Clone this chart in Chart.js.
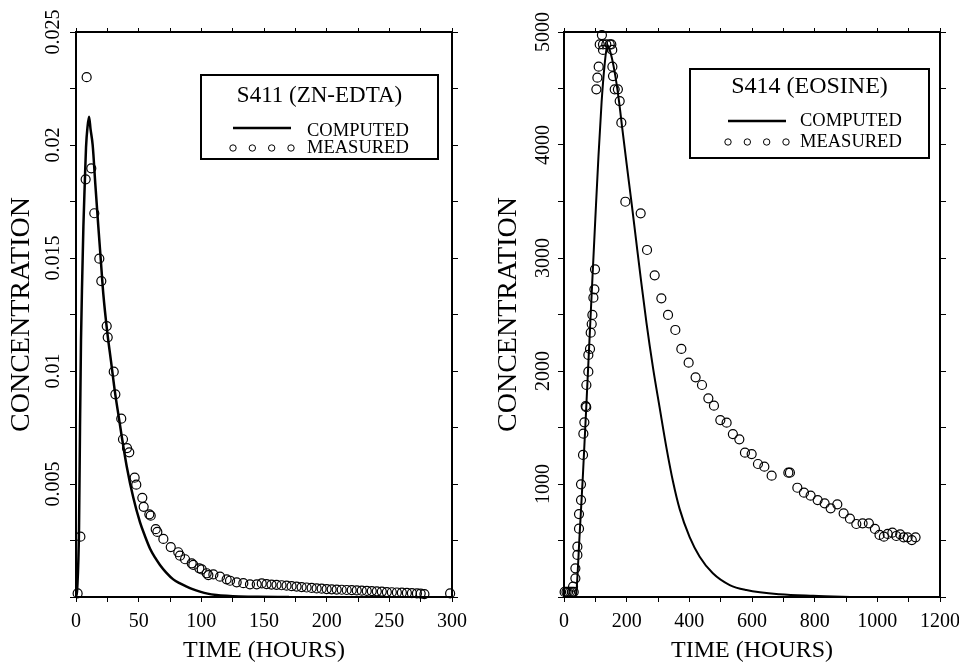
<!DOCTYPE html>
<html>
<head>
<meta charset="utf-8">
<script src="https://cdn.jsdelivr.net/npm/chart.js@4.4.0/dist/chart.umd.min.js"></script>
<style>
  html, body { margin: 0; padding: 0; background: #fff; }
  #wrap { position: relative; width: 959px; height: 664px; }
  #leftChart { position: absolute; left: 0; top: 0; }
  #rightChart { position: absolute; left: 480px; top: 0; }
</style>
</head>
<body>
<div id="wrap">
  <canvas id="leftChart" width="480" height="664"></canvas>
  <canvas id="rightChart" width="479" height="664"></canvas>
</div>
<script>
// S411 (ZN-EDTA) - measured
const s411MeasuredTime = [1.3, 3.5, 7.7, 8.5, 12.2, 14.6, 18.6, 20.2, 24.5, 25.3,
  30.1, 31.4, 36.1, 37.5, 40.7, 42.5, 46.8, 48.1, 52.9, 54,
  58.5, 59.6, 63.6, 64.9, 69.7, 75.6, 81.6, 83, 87, 92.3,
  93.6, 98.4, 100.3, 104.3, 105.6, 109.6, 114.9, 120.2, 122.9, 128.2,
  133.5, 138.8, 144.2, 148.2, 152, 156, 160, 164, 168, 172,
  176, 180, 184, 188, 192, 196, 200, 204, 208, 212,
  216, 220, 224, 228, 232, 236, 240, 244, 248, 252,
  256, 260, 264, 268, 272, 275, 278, 298.5];
const s411MeasuredConc = [0.00016, 0.00267, 0.01848, 0.023, 0.01897, 0.01698, 0.01497, 0.01398, 0.01199, 0.01149,
  0.00997, 0.00897, 0.00789, 0.00698, 0.00659, 0.0064, 0.00528, 0.00497, 0.00439, 0.00399,
  0.00366, 0.0036, 0.003, 0.00288, 0.00257, 0.00221, 0.00198, 0.00183, 0.00167, 0.00149,
  0.00142, 0.00127, 0.00122, 0.00105, 0.00097, 0.001, 0.0009, 0.00078, 0.00072, 0.00065,
  0.00061, 0.00056, 0.00056, 0.0006, 0.00057, 0.00055, 0.00054, 0.00052, 0.0005, 0.00048,
  0.00046, 0.00044, 0.00042, 0.0004, 0.00038, 0.00037, 0.00035, 0.00034, 0.00033, 0.00032,
  0.00031, 0.0003, 0.00029, 0.00028, 0.00027, 0.00026, 0.00025, 0.00024, 0.00022, 0.00021,
  0.0002, 0.00019, 0.00018, 0.00017, 0.00016, 0.00015, 0.00013, 0.00016];

// S411 - computed
const s411ComputedTime = [0, 1, 2.4, 3.2, 4, 5, 5.9, 7, 8, 9.2,
  10.4, 11.6, 13.3, 15.5, 17.8, 19.8, 21.8, 25, 28, 31,
  34.3, 36.5, 40.4, 45.7, 51.1, 55, 59, 63, 67, 72,
  77.6, 83, 88.3, 93, 98.9, 105, 112, 120, 130, 145, 170];
const s411ComputedConc = [0, 0.0004, 0.003, 0.0075, 0.0114, 0.0142, 0.0164, 0.0183, 0.0199, 0.0208,
  0.02125, 0.0207, 0.02, 0.0182, 0.0164, 0.0149, 0.0134, 0.0117, 0.0104, 0.0091,
  0.0079, 0.0071, 0.0058, 0.0044, 0.0033, 0.0027, 0.00215, 0.00175, 0.00142, 0.00108,
  0.00078, 0.0006, 0.00046, 0.00035, 0.00024, 0.00015, 0.00009, 0.00005, 0.00002, 0.00001, 0];

// S414 (EOSINE) - measured
const s414MeasuredTime = [2, 8, 13, 19, 25, 31, 28.8, 36.3, 36.3, 42.7,
  42.7, 47.9, 47.9, 54.3, 54.3, 60.7, 61.8, 65, 69.2, 71,
  71.4, 77.7, 77.7, 83, 85.2, 88.4, 90.6, 93.8, 97, 99,
  103.3, 106.5, 110.7, 114, 121, 124.5, 124.5, 135, 146, 151,
  154, 154.4, 156.4, 161.8, 172, 177.7, 183, 195.8, 244.7, 265,
  289.4, 310.7, 332, 355.3, 374.5, 397.8, 420, 440.4, 460.7, 478.6,
  498.9, 519, 539, 559.6, 577.5, 598.9, 619, 639.4, 662.7, 716,
  721, 744.7, 765.8, 787, 809.5, 831.8, 851, 872.3, 892.5, 912.5,
  932.9, 953, 973, 992.3, 1007, 1021, 1033, 1048, 1060.5, 1073,
  1084, 1096.6, 1110, 1122];
const s414MeasuredConc = [45, 45, 45, 45, 45, 45, 91, 165, 254, 372,
  445, 605, 734, 858, 997, 1257, 1445, 1546, 1690, 1680,
  1876, 1994, 2142, 2195, 2339, 2416, 2496, 2649, 2723, 2900,
  4493, 4596, 4693, 4890, 4973, 4890, 4841, 4890, 4890, 4890,
  4841, 4693, 4610, 4493, 4493, 4389, 4198, 3498, 3395, 3071,
  2847, 2643, 2496, 2363, 2195, 2074, 1944, 1876, 1758, 1693,
  1566, 1543, 1442, 1395, 1277, 1265, 1177, 1153, 1074, 1100,
  1100, 967, 923, 897, 858, 829, 785, 820, 740, 693,
  646, 652, 652, 602, 549, 534, 558, 569, 540, 555,
  528, 528, 504, 528];

// S414 - computed
const s414ComputedTime = [0, 36, 40, 50, 60, 70, 80, 90, 100, 110,
  120, 130, 138.5, 150, 162, 175, 185, 200, 216, 230,
  245, 263, 284, 305, 327, 348, 369, 401, 433, 475,
  529, 582, 688, 795, 933];
const s414ComputedConc = [0, 0, 60, 560, 1060, 1620, 2200, 2780, 3350, 3900,
  4380, 4720, 4885, 4800, 4640, 4400, 4170, 3830, 3480, 3160,
  2820, 2430, 2030, 1680, 1320, 1020, 780, 530, 357, 210,
  106, 62, 24, 10, 0];

// ticks
const s411TimeTicks = [0, 25, 50, 75, 100, 125, 150, 175, 200, 225, 250, 275, 300];
const s411TimeLabels = ["0", "50", "100", "150", "200", "250", "300"];
const s411ConcTicks = [0, 0.0025, 0.005, 0.0075, 0.01, 0.0125, 0.015, 0.0175, 0.02, 0.0225, 0.025];
const s411ConcLabels = ["0.005", "0.01", "0.015", "0.02", "0.025"];
const s414TimeTicks = [0, 100, 200, 300, 400, 500, 600, 700, 800, 900, 1000, 1100, 1200];
const s414TimeLabels = ["0", "200", "400", "600", "800", "1000", "1200"];
const s414ConcTicks = [0, 500, 1000, 1500, 2000, 2500, 3000, 3500, 4000, 4500, 5000];
const s414ConcLabels = ["1000", "2000", "3000", "4000", "5000"];

const SERIF = "'Liberation Serif', 'Times New Roman', serif";

function pts(xs, ys) {
  return xs.map((x, i) => ({ x: x, y: ys[i] }));
}

function tickLabel(labels) {
  return function (value) {
    const hit = labels.find((l) => Math.abs(Number(l) - value) < 1e-9);
    return hit === undefined ? "" : hit;
  };
}

function fixedTicks(values) {
  return function (scale) {
    scale.ticks = values.map((v) => ({ value: v }));
  };
}

// fixed axis sizes so the plot frame lands where the original has it
function fixHeight(h) {
  return function (s) {
    s.height = h;
    s.paddingLeft = 0;
    s.paddingRight = 0;
  };
}

function fixWidth(w) {
  return function (s) {
    s.width = w;
    s.paddingTop = 0;
    s.paddingBottom = 0;
  };
}

// legend box drawn inside the plot
const boxLegend = {
  id: "boxLegend",
  afterDraw(chart, args, o) {
    const ctx = chart.ctx;
    ctx.save();
    ctx.strokeStyle = "#000";
    ctx.fillStyle = "#000";
    ctx.lineWidth = 2;
    ctx.strokeRect(o.x, o.y, o.w, o.h);
    ctx.textBaseline = "middle";
    ctx.textAlign = "center";
    ctx.font = o.titleSize + "px " + SERIF;
    ctx.fillText(o.title, o.x + o.w / 2, o.titleY);
    ctx.textAlign = "left";
    ctx.font = o.itemSize + "px " + SERIF;
    ctx.fillText("COMPUTED", o.textX, o.lineTextY);
    ctx.fillText("MEASURED", o.textX, o.dotY);
    ctx.lineWidth = o.lineWidth;
    ctx.beginPath();
    ctx.moveTo(o.sample0, o.lineY);
    ctx.lineTo(o.sample1, o.lineY);
    ctx.stroke();
    ctx.lineWidth = 1;
    for (let i = 0; i < 4; i++) {
      const cx = o.sample0 + (i * (o.sample1 - o.sample0)) / 3;
      ctx.beginPath();
      ctx.arc(cx, o.dotY, 3.2, 0, Math.PI * 2);
      ctx.stroke();
    }
    ctx.restore();
  },
};

function makeChart(id, cfg) {
  const frame = { display: true, color: "#000", width: 2 };
  const tickFont = { family: SERIF, size: 20 };
  const gridX = { drawOnChartArea: false, color: "#000", lineWidth: 1, tickLength: 5 };
  const gridY = { drawOnChartArea: false, color: "#000", lineWidth: 1, tickLength: 6 };

  return new Chart(document.getElementById(id), {
    type: "scatter",
    data: {
      datasets: [
        {
          label: "MEASURED",
          data: pts(cfg.mt, cfg.mc),
          showLine: false,
          pointRadius: 4.5,
          pointBorderWidth: 1.2,
          borderColor: "#000",
          backgroundColor: "rgba(0,0,0,0)",
          clip: false,
        },
        {
          label: "COMPUTED",
          data: pts(cfg.ct, cfg.cc),
          showLine: true,
          pointRadius: 0,
          borderColor: "#000",
          borderWidth: cfg.lineWidth,
          cubicInterpolationMode: "monotone",
        },
      ],
    },
    options: {
      responsive: false,
      devicePixelRatio: 1,
      animation: false,
      layout: { padding: 0 },
      plugins: {
        legend: { display: false },
        tooltip: { enabled: false },
        boxLegend: cfg.legend,
      },
      scales: {
        x: {
          type: "linear",
          position: "bottom",
          min: cfg.xMin,
          max: cfg.xMax,
          afterBuildTicks: fixedTicks(cfg.xTicks),
          afterFit: fixHeight(67),
          border: frame,
          grid: gridX,
          ticks: {
            autoSkip: false,
            maxRotation: 0,
            font: tickFont,
            color: "#000",
            padding: 8,
            callback: tickLabel(cfg.xLabels),
          },
          title: {
            display: true,
            text: "TIME (HOURS)",
            color: "#000",
            font: { family: SERIF, size: 24, lineHeight: 1 },
            padding: { top: 0, bottom: 1 },
          },
        },
        x2: {
          type: "linear",
          position: "top",
          min: cfg.xMin,
          max: cfg.xMax,
          afterBuildTicks: fixedTicks(cfg.xTicks),
          afterFit: fixHeight(32),
          border: frame,
          grid: { drawOnChartArea: false, color: "#000", lineWidth: 1, tickLength: 4 },
          ticks: { display: false },
        },
        y: {
          type: "linear",
          position: "left",
          min: cfg.yMin,
          max: cfg.yMax,
          afterBuildTicks: fixedTicks(cfg.yTicks),
          afterFit: fixWidth(cfg.leftWidth),
          border: frame,
          grid: gridY,
          ticks: {
            autoSkip: false,
            minRotation: 90,
            maxRotation: 90,
            crossAlign: "center",
            padding: -6,
            font: tickFont,
            color: "#000",
            callback: tickLabel(cfg.yLabels),
          },
          title: {
            display: true,
            text: "CONCENTRATION",
            color: "#000",
            font: { family: SERIF, size: 28, lineHeight: 1 },
            padding: { top: cfg.yTitlePad, bottom: 0 },
          },
        },
        y2: {
          type: "linear",
          position: "right",
          min: cfg.yMin,
          max: cfg.yMax,
          afterBuildTicks: fixedTicks(cfg.yTicks),
          afterFit: fixWidth(cfg.rightWidth),
          border: frame,
          grid: gridY,
          ticks: { display: false },
        },
      },
    },
    plugins: [boxLegend],
  });
}

makeChart("leftChart", {
  mt: s411MeasuredTime, mc: s411MeasuredConc,
  ct: s411ComputedTime, cc: s411ComputedConc,
  xMin: 0, xMax: 300, xTicks: s411TimeTicks, xLabels: s411TimeLabels,
  yMin: 0, yMax: 0.025, yTicks: s411ConcTicks, yLabels: s411ConcLabels,
  leftWidth: 76, rightWidth: 28, yTitlePad: 8, lineWidth: 2.5,
  legend: {
    x: 201, y: 75, w: 237, h: 84,
    title: "S411 (ZN-EDTA)", titleSize: 23, titleY: 96,
    itemSize: 18.5, textX: 307, lineTextY: 131, lineY: 128, dotY: 148,
    sample0: 233, sample1: 291, lineWidth: 2.5,
  },
});

makeChart("rightChart", {
  mt: s414MeasuredTime, mc: s414MeasuredConc,
  ct: s414ComputedTime, cc: s414ComputedConc,
  xMin: 0, xMax: 1200, xTicks: s414TimeTicks, xLabels: s414TimeLabels,
  yMin: 0, yMax: 5000, yTicks: s414ConcTicks, yLabels: s414ConcLabels,
  leftWidth: 84, rightWidth: 19, yTitlePad: 15, lineWidth: 2,
  legend: {
    x: 210, y: 69, w: 239, h: 89,
    title: "S414 (EOSINE)", titleSize: 24, titleY: 87,
    itemSize: 18.5, textX: 320, lineTextY: 121, lineY: 121, dotY: 142,
    sample0: 248, sample1: 306, lineWidth: 2.5,
  },
});
</script>
</body>
</html>
